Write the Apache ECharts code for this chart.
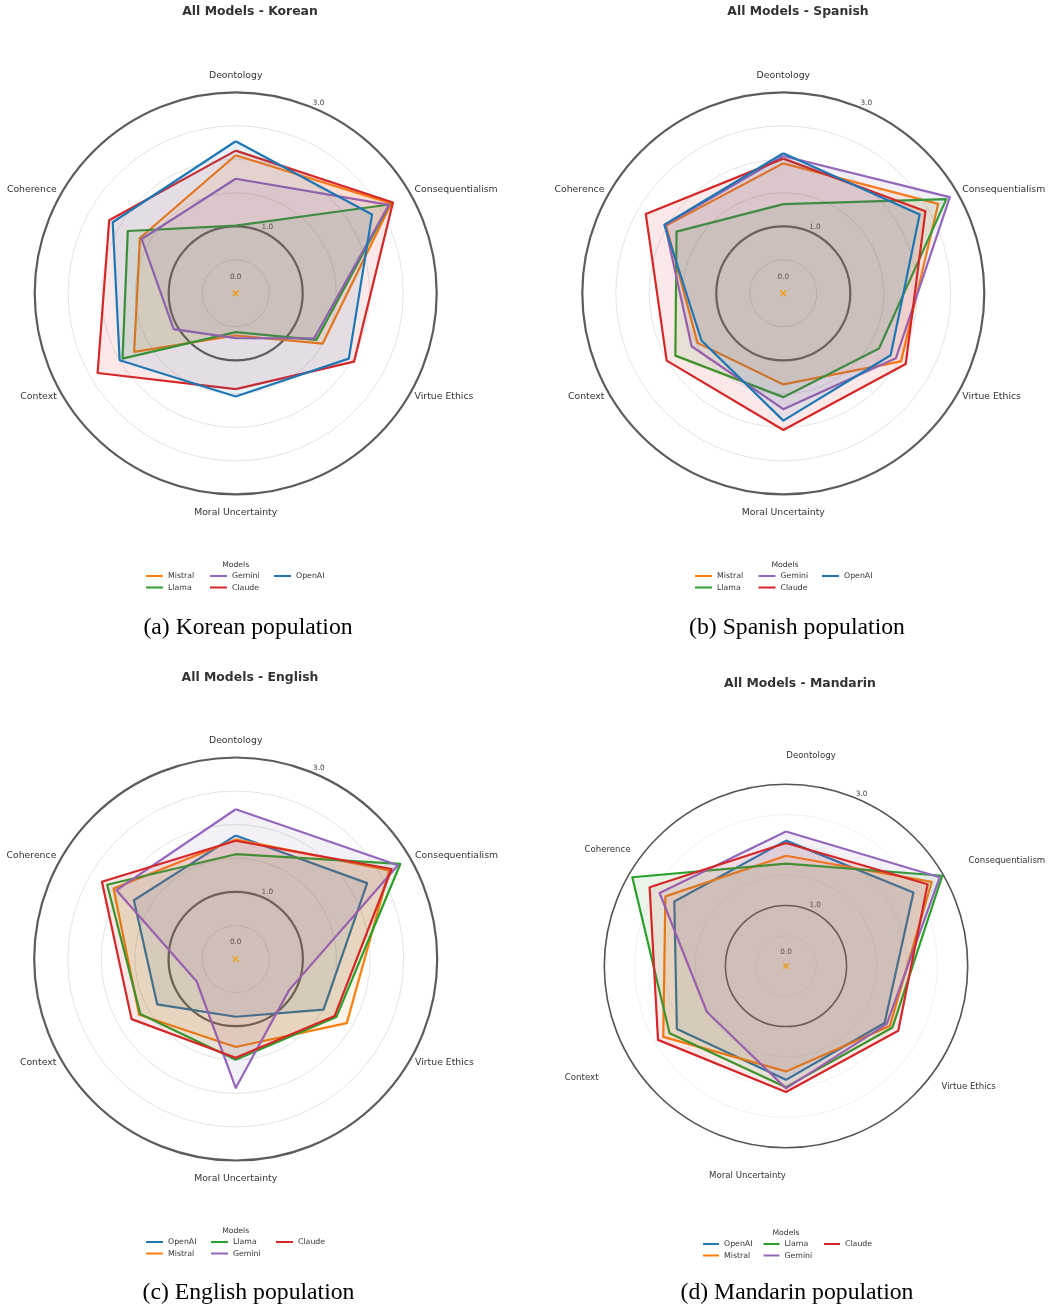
<!DOCTYPE html>
<html>
<head>
<meta charset="utf-8">
<script src="https://cdn.jsdelivr.net/npm/echarts@6/dist/echarts.min.js"></script>
<style>
  html, body { margin: 0; padding: 0; background: #fff; }
  #chart { width: 1050px; height: 1310px; }
</style>
</head>
<body>
<div id="chart"></div>
<script>
(function() {
  'use strict';

  // 维度按参考图从顶部顺时针排列
  const dimensions = ['Deontology', 'Consequentialism', 'Virtue Ethics', 'Moral Uncertainty', 'Context', 'Coherence'];
  const models = ['OpenAI', 'Mistral', 'Llama', 'Gemini', 'Claude'];
  const modelColors = ['#1f77b4', '#ff7f0e', '#2ca02c', '#9467bd', '#d62728'];
  const radialLabels = [0, 1, 3];

  // 每行对应 models 的顺序，每列对应 dimensions 的顺序
  const korean = [
    [2.27, 2.35, 1.95, 1.54, 2.00, 2.12],
    [2.06, 2.68, 1.50, 0.63, 1.75, 1.65],
    [1.01, 2.65, 1.39, 0.58, 1.95, 1.86],
    [1.71, 2.64, 1.35, 0.67, 1.07, 1.62],
    [2.13, 2.71, 2.04, 1.43, 2.38, 2.18]
  ];
  const spanish = [
    [2.09, 2.35, 1.85, 1.90, 1.41, 2.05],
    [1.94, 2.67, 2.03, 1.36, 1.48, 2.02],
    [1.33, 2.81, 1.65, 1.55, 1.86, 1.84],
    [2.05, 2.87, 1.94, 1.73, 1.58, 2.04],
    [2.01, 2.45, 2.11, 2.04, 2.01, 2.37]
  ];
  const english = [
    [1.84, 2.26, 1.51, 0.86, 1.35, 1.75],
    [1.78, 2.64, 1.91, 1.31, 1.66, 2.10],
    [1.56, 2.83, 1.73, 1.50, 1.64, 2.21],
    [2.23, 2.79, 0.92, 1.92, 0.67, 2.05],
    [1.76, 2.68, 1.70, 1.47, 1.79, 2.30]
  ];
  const mandarin = [
    [2.07, 2.43, 1.88, 1.88, 2.08, 2.13],
    [1.82, 2.78, 1.98, 1.74, 2.34, 2.30],
    [1.69, 2.98, 2.03, 2.00, 2.22, 2.93],
    [2.22, 2.93, 1.92, 2.02, 1.51, 2.41],
    [2.03, 2.70, 2.14, 2.08, 2.44, 2.60]
  ];

  // ECharts 雷达图逆时针排布，这里换成顺时针
  const ecOrder = [0, 5, 4, 3, 2, 1];

  const defaultPad = { 0: [0, 0, 7, 0], 3: [8, 0, 0, 0] };
  const mandarinPad = {
    0: [0, 0, -5, 50],
    2: [31, 0, 0, -27],
    3: [-5, 77, 0, 0],
    4: [13, 5, 0, 0],
    5: [0, -27, 21, 0]
  };

  const panels = [
    {
      lang: 'Korean', caption: '(a) Korean population', values: korean,
      center: [235.7, 293.3], radius: 201, nameGap: 5.6, namePad: defaultPad, nameSize: 9.3, zeroPad: 33,
      titleX: 250, titleY: 12, captionX: 248, captionY: 628,
      order: ['Mistral', 'Llama', 'Gemini', 'Claude', 'OpenAI'],
      cols: [['Mistral', 'Llama'], ['Gemini', 'Claude'], ['OpenAI']],
      legendX: 146, legendY: 576, modelsX: 235.7, modelsY: 565, col: 64, iconW: 17,
      grid: '#dcdcdc', ring: '#5c5c5c', ringW: 2.2
    },
    {
      lang: 'Spanish', caption: '(b) Spanish population', values: spanish,
      center: [783.3, 293.3], radius: 201, nameGap: 5.6, namePad: defaultPad, nameSize: 9.3, zeroPad: 33,
      titleX: 798, titleY: 12, captionX: 797, captionY: 628,
      order: ['Mistral', 'Llama', 'Gemini', 'Claude', 'OpenAI'],
      cols: [['Mistral', 'Llama'], ['Gemini', 'Claude'], ['OpenAI']],
      legendX: 695, legendY: 576, modelsX: 785, modelsY: 565, col: 63.5, iconW: 17,
      grid: '#dcdcdc', ring: '#5c5c5c', ringW: 2.2
    },
    {
      lang: 'English', caption: '(c) English population', values: english,
      center: [235.7, 959], radius: 201.5, nameGap: 5.6, namePad: defaultPad, nameSize: 9.3, zeroPad: 33,
      titleX: 250, titleY: 678, captionX: 248.5, captionY: 1293,
      order: ['OpenAI', 'Mistral', 'Llama', 'Gemini', 'Claude'],
      cols: [['OpenAI', 'Mistral'], ['Llama', 'Gemini'], ['Claude']],
      legendX: 146, legendY: 1242, modelsX: 235.7, modelsY: 1231, col: 65, iconW: 17,
      grid: '#dcdcdc', ring: '#5c5c5c', ringW: 2.2
    },
    {
      lang: 'Mandarin', caption: '(d) Mandarin population', values: mandarin,
      center: [786, 966], radius: 181.7, nameGap: 29, namePad: mandarinPad, nameSize: 8.6, zeroPad: 27,
      titleX: 800, titleY: 684, captionX: 797, captionY: 1293,
      order: ['OpenAI', 'Mistral', 'Llama', 'Gemini', 'Claude'],
      cols: [['OpenAI', 'Mistral'], ['Llama', 'Gemini'], ['Claude']],
      legendX: 703, legendY: 1244, modelsX: 786, modelsY: 1233, col: 60.5, iconW: 16,
      grid: '#ececec', ring: '#555555', ringW: 1.6
    }
  ];

  const textColor = '#333';
  const font = 'DejaVu Sans';
  const crossPath = 'path://M0,1L1,0L5,4L9,0L10,1L6,5L10,9L9,10L5,6L1,10L0,9L4,5Z';
  const legendLine = 10;
  const legendRowGap = 11.5;

  const option = {
    animation: false,
    backgroundColor: '#fff',
    textStyle: { fontFamily: font },
    title: [],
    legend: [],
    radar: [],
    series: []
  };

  function sameValue(a, b) {
    return Math.abs(a - b) < 1e-6;
  }

  panels.forEach(function(p) {
    const base = option.radar.length;

    // 名称的 rich 样式，用于微调位置
    const rich = {};
    Object.keys(p.namePad).forEach(function(k) {
      rich['n' + k] = { padding: p.namePad[k], fontSize: p.nameSize, color: textColor, fontFamily: font };
    });

    // 浅色网格 + 维度名称
    option.radar.push({
      center: p.center,
      radius: p.radius,
      startAngle: 90,
      shape: 'circle',
      splitNumber: 6,
      axisNameGap: p.nameGap,
      indicator: ecOrder.map(function(i) { return { name: dimensions[i], min: 0, max: 3 }; }),
      axisName: {
        color: textColor,
        fontSize: p.nameSize,
        fontFamily: font,
        formatter: function(name) {
          const idx = dimensions.indexOf(name);
          return p.namePad[idx] ? '{n' + idx + '|' + name + '}' : name;
        },
        rich: rich
      },
      axisLine: { show: false },
      axisTick: { show: false },
      axisLabel: { show: false },
      splitArea: { show: false },
      splitLine: {
        lineStyle: {
          color: ['transparent', p.grid, 'transparent', p.grid, p.grid, p.grid, 'transparent'],
          width: 0.8
        }
      }
    });

    // 1.0 和 3.0 处的深色圆环
    option.radar.push({
      center: p.center,
      radius: p.radius,
      startAngle: 90,
      shape: 'circle',
      splitNumber: 3,
      indicator: ecOrder.map(function() { return { name: '', min: 0, max: 3 }; }),
      axisName: { show: false },
      axisLine: { show: false },
      axisTick: { show: false },
      axisLabel: { show: false },
      splitArea: { show: false },
      splitLine: {
        lineStyle: {
          color: ['transparent', p.ring, 'transparent', p.ring],
          width: p.ringW
        }
      }
    });

    // 径向刻度标签 (22.5°)
    const labelAxis = {
      name: '', min: 0, max: 3,
      axisLabel: {
        show: true,
        margin: 0,
        align: 'center',
        verticalAlign: 'middle',
        fontSize: 7.3,
        color: '#444',
        formatter: function(v) {
          for (let i = 0; i < radialLabels.length; i++) {
            if (sameValue(v, radialLabels[i])) {
              return (radialLabels[i] === 0 ? '{z|' : '{t|') + radialLabels[i].toFixed(1) + '}';
            }
          }
          return '';
        },
        rich: {
          z: { padding: [0, 0, p.zeroPad, 0], fontSize: 7.3, color: '#444', fontFamily: font },
          t: { padding: [0, 0, 9, 12], fontSize: 7.3, color: '#444', fontFamily: font }
        }
      }
    };
    option.radar.push({
      center: p.center,
      radius: p.radius,
      startAngle: 67.5,
      shape: 'circle',
      splitNumber: 6,
      indicator: [labelAxis].concat([1, 2, 3, 4, 5].map(function() { return { name: '', min: 0, max: 3 }; })),
      axisName: { show: false },
      axisLine: { show: false },
      axisTick: { show: false },
      axisLabel: { show: false },
      splitArea: { show: false },
      splitLine: { show: false }
    });

    // 各模型多边形
    p.order.forEach(function(m) {
      const k = models.indexOf(m);
      const color = modelColors[k];
      option.series.push({
        type: 'radar',
        name: m,
        radarIndex: base,
        symbol: 'none',
        color: color,
        silent: true,
        lineStyle: { width: 2.2, color: color },
        areaStyle: { color: color, opacity: 0.1 },
        data: [{ name: m, value: ecOrder.map(function(i) { return p.values[k][i]; }) }]
      });
    });

    // 中心的 × 标记
    option.series.push({
      type: 'radar',
      name: 'origin',
      radarIndex: base,
      symbol: crossPath,
      symbolSize: 6,
      silent: true,
      z: 5,
      itemStyle: { color: '#f0a020' },
      lineStyle: { width: 0 },
      data: [{ value: ecOrder.map(function() { return 0; }) }]
    });

    // 标题
    option.title.push({
      text: 'All Models - ' + p.lang,
      left: p.titleX, top: p.titleY,
      textAlign: 'center', textVerticalAlign: 'middle', padding: 0,
      textStyle: { fontSize: 12.4, fontWeight: 'bold', color: textColor, fontFamily: font }
    });
    option.title.push({
      text: 'Models',
      left: p.modelsX, top: p.modelsY,
      textAlign: 'center', textVerticalAlign: 'middle', padding: 0,
      textStyle: { fontSize: 7.7, fontWeight: 'normal', color: textColor, fontFamily: font }
    });
    option.title.push({
      text: p.caption,
      left: p.captionX, top: p.captionY,
      textAlign: 'center', textVerticalAlign: 'middle', padding: 0,
      textStyle: { fontSize: 23.7, fontWeight: 'normal', color: '#000', fontFamily: 'Liberation Serif' }
    });

    // 图例：按参考图逐列排布（先列后行）
    p.cols.forEach(function(colItems, c) {
      option.legend.push({
        data: colItems,
        orient: 'vertical',
        left: p.legendX + c * p.col,
        top: p.legendY - legendLine / 2,
        padding: 0,
        itemGap: legendRowGap - legendLine,
        itemWidth: p.iconW,
        itemHeight: 2,
        icon: 'rect',
        selectedMode: false,
        textStyle: { fontSize: 7.8, lineHeight: legendLine, color: textColor, fontFamily: font }
      });
    });
  });

  const chart = echarts.init(document.getElementById('chart'), null, { renderer: 'canvas' });
  chart.setOption(option);
})();
</script>
</body>
</html>
